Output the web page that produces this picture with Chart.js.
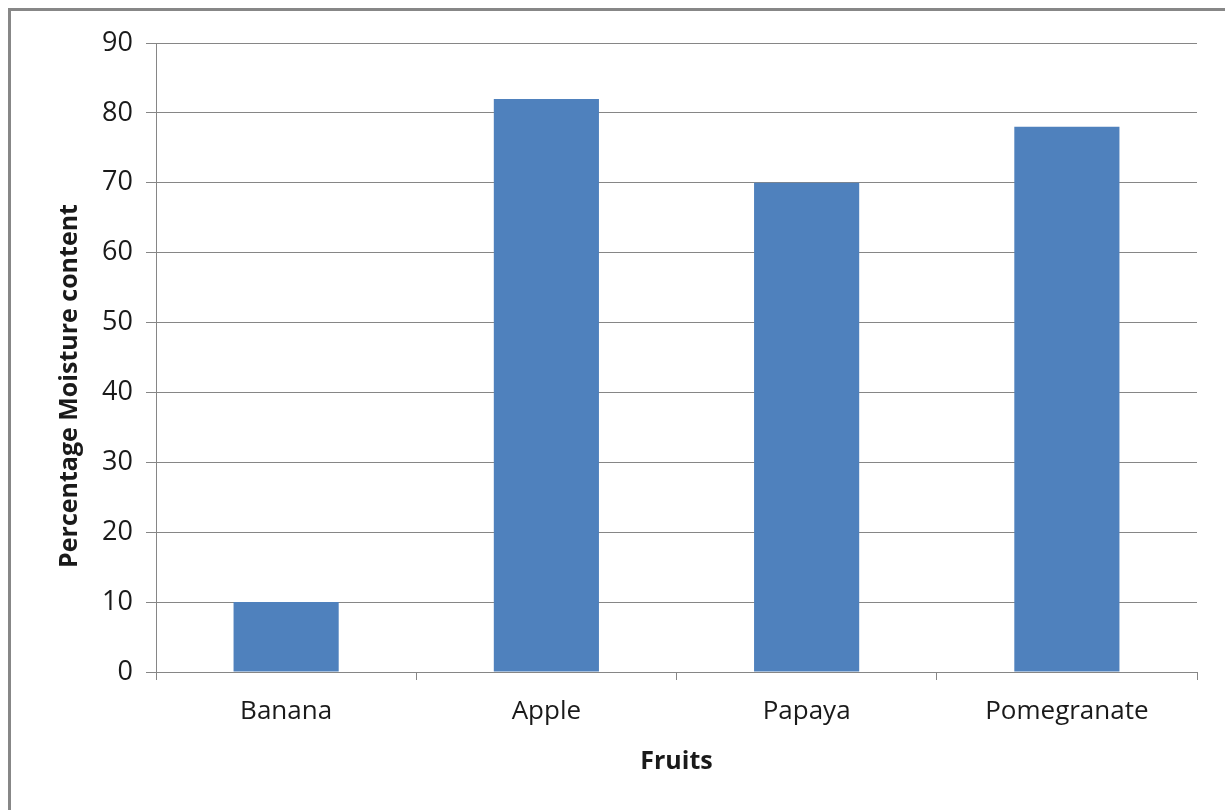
<!DOCTYPE html>
<html>

<head>
    <title>fruit_moisture</title>
    <script src="https://cdn.jsdelivr.net/npm/chart.js"></script>
    <style>
        body {
            margin: 0;
            background: #fff;
        }
    </style>
</head>

<body>
    <canvas id="chartCanvas" width="1225" height="810"></canvas>
    <script>
        const fruits = ['Banana', 'Apple', 'Papaya', 'Pomegranate'];
        const moisture = [10, 82, 70, 78];
        const yMin = 0;
        const yMax = 90;
        const yStep = 10;
        const yTitle = 'Percentage Moisture content';
        const xTitle = 'Fruits';

        const axisGray = '#868686';
        const textColor = '#1a1a1a';
        const fontFamily = '"Open Sans", "Liberation Sans", sans-serif';

        // outer frame (top and left edges only) + y axis title, which sits
        // centred on the whole picture height rather than on the plot
        const extrasPlugin = {
            id: 'extras',
            beforeDraw(chart) {
                const ctx = chart.ctx;
                ctx.save();
                ctx.strokeStyle = '#878787';
                ctx.lineWidth = 3;
                ctx.beginPath();
                ctx.moveTo(9.5, 810);
                ctx.lineTo(9.5, 9.5);
                ctx.lineTo(1225, 9.5);
                ctx.stroke();
                ctx.restore();
            },
            afterDraw(chart) {
                const ctx = chart.ctx;
                ctx.save();
                ctx.translate(70, 386);
                ctx.rotate(-Math.PI / 2);
                ctx.fillStyle = textColor;
                ctx.font = 'bold 25px ' + fontFamily;
                ctx.textAlign = 'center';
                ctx.textBaseline = 'middle';
                ctx.fillText(yTitle, 0, 0);
                ctx.restore();
            }
        };

        const chart = new Chart(document.getElementById('chartCanvas'), {
            type: 'bar',
            data: {
                labels: fruits,
                datasets: [{
                    label: yTitle,
                    data: moisture,
                    backgroundColor: '#4F81BD',
                    borderWidth: 0,
                    barPercentage: 0.404,
                    categoryPercentage: 1
                }]
            },
            options: {
                responsive: false,
                animation: false,
                layout: {
                    padding: { left: 0, right: 28, top: 43, bottom: 0 }
                },
                plugins: {
                    legend: { display: false },
                    tooltip: { enabled: false }
                },
                scales: {
                    x: {
                        afterFit: (scale) => { scale.height = 138; },
                        grid: {
                            drawOnChartArea: false,
                            drawTicks: true,
                            tickLength: 8,
                            color: axisGray,
                            offset: true
                        },
                        border: { color: axisGray, width: 1 },
                        ticks: {
                            color: textColor,
                            font: { family: fontFamily, size: 26 },
                            padding: 16
                        },
                        title: {
                            display: true,
                            text: xTitle,
                            color: textColor,
                            font: { family: fontFamily, size: 25, weight: 'bold' },
                            padding: { top: 0, bottom: 33 }
                        }
                    },
                    y: {
                        min: yMin,
                        max: yMax,
                        afterFit: (scale) => { scale.width = 156; },
                        grid: {
                            color: axisGray,
                            tickLength: 10,
                            drawTicks: true
                        },
                        border: { color: axisGray, width: 1 },
                        ticks: {
                            stepSize: yStep,
                            color: textColor,
                            font: { family: fontFamily, size: 27 },
                            padding: 13
                        }
                    }
                }
            },
            plugins: [extrasPlugin]
        });
    </script>
</body>

</html>
